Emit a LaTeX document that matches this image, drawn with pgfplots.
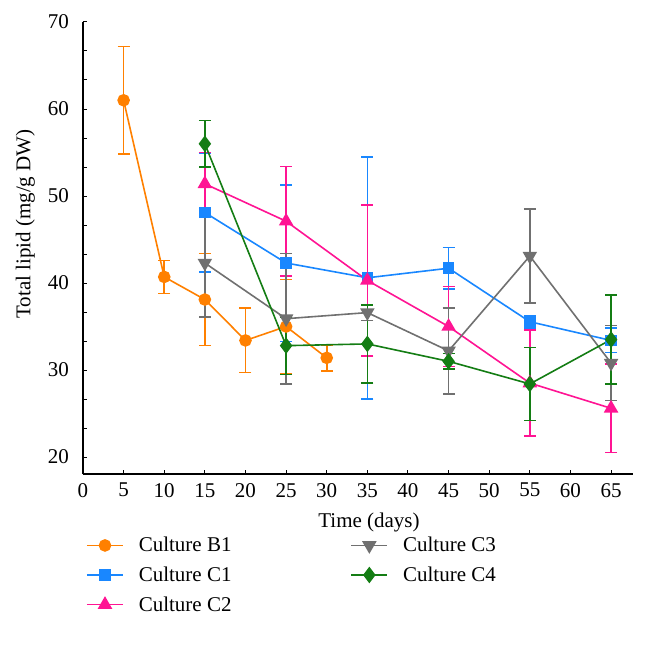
\documentclass[border=0pt]{standalone}
\usepackage{fontspec}
\setmainfont{Liberation Serif}
\usepackage{pgfplots}
\usepackage{pgfplotstable}
\pgfplotsset{compat=1.18}
\definecolor{cB}{RGB}{255,128,0}
\definecolor{cC1}{RGB}{25,135,255}
\definecolor{cC2}{RGB}{255,20,147}
\definecolor{cC3}{RGB}{112,112,112}
\definecolor{cC4}{RGB}{20,125,20}
\pgfplotstableread{
x y e
5 61.0 6.2
10 40.7 1.9
15 38.1 5.3
20 33.4 3.7
25 35.0 5.4
30 31.4 1.5
}\tB
\pgfplotstableread{
x y e
15 48.1 6.8
25 42.3 9.0
35 40.6 13.9
45 41.7 2.4
55 35.55 0.7
65 33.4 1.4
}\tCa
\pgfplotstableread{
x y e
15 51.4 3.6
25 47.1 6.3
35 40.3 8.7
45 35.0 4.6
55 28.5 6.1
65 25.6 5.1
}\tCb
\pgfplotstableread{
x y e
15 42.3 6.2
25 35.9 7.5
35 36.6 0.9
45 32.2 4.95
55 43.1 5.4
65 30.8 4.3
}\tCc
\pgfplotstableread{
x y e
15 56.0 2.7
25 32.8 3.3
35 33.0 4.5
45 31.0 0.9
55 28.4 4.2
65 33.5 5.1
}\tCd
\newcommand{\ff}{\fontsize{21}{25}\selectfont}
\pgfplotsset{ebar/.style={error bars/.cd, y dir=both, y explicit,
  error bar style={line width=1.6pt, solid},
  error mark options={rotate=90, mark size=6pt, line width=1.6pt, solid}}}
\begin{document}
\begin{tikzpicture}
\path[use as bounding box] (-83pt,-179pt) rectangle (564pt,474pt);
\begin{axis}[
  scale only axis, width=550pt, height=452pt,
  xmin=0, xmax=67.7, ymin=18.05, ymax=70,
  axis lines=left, axis line style={-, line width=1.4pt},
  tick align=inside, major tick length=4pt, minor tick length=4pt,
  tick style={black, line width=1pt},
  xtick={0,5,...,65}, ytick={20,30,...,70}, minor y tick num=2,
  /pgf/number format/assume math mode=true,
  tick label style={font=\ff},
  xticklabel style={inner sep=0pt, anchor=north, yshift=-9pt},
  yticklabel style={inner sep=0pt, anchor=east, xshift=-14pt},
  xlabel={Time (days)}, ylabel={Total lipid (mg/g DW)},
  label style={font=\ff},
  xlabel style={at={(axis description cs:0.52,-0.108)}, anchor=center},
  ylabel style={at={(axis description cs:-0.105,0.553)}, anchor=center},
  clip=false,
  every axis plot/.append style={line width=1.6pt},
  legend columns=2,
  legend image code/.code={\draw[mark repeat=2,mark phase=2] plot coordinates {(0pt,0pt)(18pt,0pt)(36pt,0pt)};},
  legend style={draw=none, fill=none, font=\ff, at={(axis description cs:0.0,-0.131)}, anchor=north west,
    /tikz/every odd column/.append style={column sep=13pt},
    /tikz/every even column/.append style={column sep=117pt}, row sep=9.5pt},
]
\addplot[cB, mark=*, mark size=5.5pt, forget plot, ebar] table[x=x,y=y,y error=e]{\tB};
\addplot[cC1, mark=square*, mark size=5pt, forget plot, ebar] table[x=x,y=y,y error=e]{\tCa};
\addplot[cC2, mark=triangle*, mark size=6.8pt, forget plot, ebar] table[x=x,y=y,y error=e]{\tCb};
\addplot[cC3, mark=triangle*, mark options={rotate=180}, mark size=6.8pt, forget plot, ebar] table[x=x,y=y,y error=e]{\tCc};
\addplot[cC4, mark=diamond*, mark size=7pt, forget plot, ebar] table[x=x,y=y,y error=e]{\tCd};
\addlegendimage{cB, line width=1.6pt, mark=*, mark size=5.5pt}
\addlegendentry{Culture B1}
\addlegendimage{cC3, line width=1.6pt, mark=triangle*, mark options={rotate=180}, mark size=6.8pt}
\addlegendentry{Culture C3}
\addlegendimage{cC1, line width=1.6pt, mark=square*, mark size=5pt}
\addlegendentry{Culture C1}
\addlegendimage{cC4, line width=1.6pt, mark=diamond*, mark size=7pt}
\addlegendentry{Culture C4}
\addlegendimage{cC2, line width=1.6pt, mark=triangle*, mark size=6.8pt}
\addlegendentry{Culture C2}
\end{axis}
\end{tikzpicture}
\end{document}
